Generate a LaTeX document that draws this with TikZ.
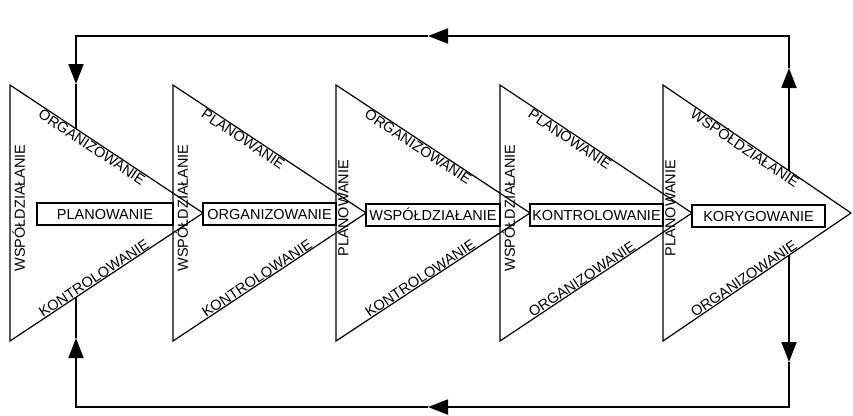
\documentclass[tikz,border=0pt]{standalone}
\usepackage{fontspec}
\setmainfont{Liberation Sans}
\usetikzlibrary{arrows.meta,calc}
\begin{document}
\begin{tikzpicture}[x=1pt,y=-1pt,
  tri/.style={line width=1.2pt, line join=miter},
  lbl/.style={font=\fontsize{14.5}{16}\selectfont, inner sep=0.8pt, text height=10.4pt, text depth=0pt},
  vlbl/.style={font=\fontsize{14.5}{16}\selectfont, inner sep=2pt, rotate=90, anchor=north},
  boxnode/.style={draw, line width=1.2pt, fill=white, font=\fontsize{14.5}{16}\selectfont, inner sep=0pt, minimum height=22pt, text height=10.4pt, text depth=0pt},
  loopline/.style={line width=1.8pt, line join=miter},
  head/.style={-{Triangle[length=20pt,width=15pt]}}
]
\useasboundingbox (0,0) rectangle (853,415);

% triangles with edge labels
\foreach \i/\l/\a/\up/\dn/\lf in {
  1/10/203/ORGANIZOWANIE/KONTROLOWANIE/WSPÓŁDZIAŁANIE,
  2/173/366/PLANOWANIE/KONTROLOWANIE/WSPÓŁDZIAŁANIE,
  3/336/530/ORGANIZOWANIE/KONTROLOWANIE/PLANOWANIE,
  4/500/692/PLANOWANIE/ORGANIZOWANIE/WSPÓŁDZIAŁANIE,
  5/663/851/WSPÓŁDZIAŁANIE/ORGANIZOWANIE/PLANOWANIE}{
  \coordinate (T\i-a) at (\l,85);
  \coordinate (T\i-b) at (\l,341);
  \coordinate (T\i-c) at (\a,213);
  \draw[tri] (T\i-a) -- (T\i-c) -- (T\i-b) -- cycle;
  \path (T\i-a) -- (T\i-c) node[lbl, pos=.17, sloped, anchor=north west] (U\i) {\up};
  \path (T\i-b) -- (T\i-c) node[lbl, pos=.17, sloped, anchor=south west] (D\i) {\dn};
  \node[vlbl] (L\i) at (\l,208) {\lf};
}

% central boxes
\node[boxnode, minimum width=136pt] (B1) at (105,214) {PLANOWANIE};
\node[boxnode, minimum width=133pt] (B2) at (269.5,214) {ORGANIZOWANIE};
\node[boxnode, minimum width=134pt] (B3) at (433,215) {WSPÓŁDZIAŁANIE};
\node[boxnode, minimum width=133pt] (B4) at (596.5,215) {KONTROLOWANIE};
\node[boxnode, minimum width=133pt] (B5) at (758.5,216) {KORYGOWANIE};

% feedback loops
\coordinate (u5) at ($(T5-a)!0.670!(T5-c)$);
\coordinate (u5tip) at (789,68);
\coordinate (tr) at (789,36);
\coordinate (tmid) at (428,36);
\coordinate (tl) at (76,36);
\coordinate (u1tip) at (76,84);
\coordinate (u1) at ($(T1-a)!0.342!(T1-c)$);

\draw[loopline, head] (u5) -- (u5tip);
\draw[loopline, head] (u5tip) -- (tr) -- (tmid);
\draw[loopline, head] (tmid) -- (tl) -- (u1tip);
\draw[loopline] (u1tip) -- (u1);

\coordinate (d5) at ($(T5-b)!0.670!(T5-c)$);
\coordinate (d5tip) at (789,362);
\coordinate (br) at (789,407);
\coordinate (bmid) at (428,407);
\coordinate (bl) at (76,407);
\coordinate (d1tip) at (76,338);
\coordinate (d1) at ($(T1-b)!0.342!(T1-c)$);

\draw[loopline, head] (d5) -- (d5tip);
\draw[loopline, head] (d5tip) -- (br) -- (bmid);
\draw[loopline, head] (bmid) -- (bl) -- (d1tip);
\draw[loopline] (d1tip) -- (d1);
\end{tikzpicture}
\end{document}
